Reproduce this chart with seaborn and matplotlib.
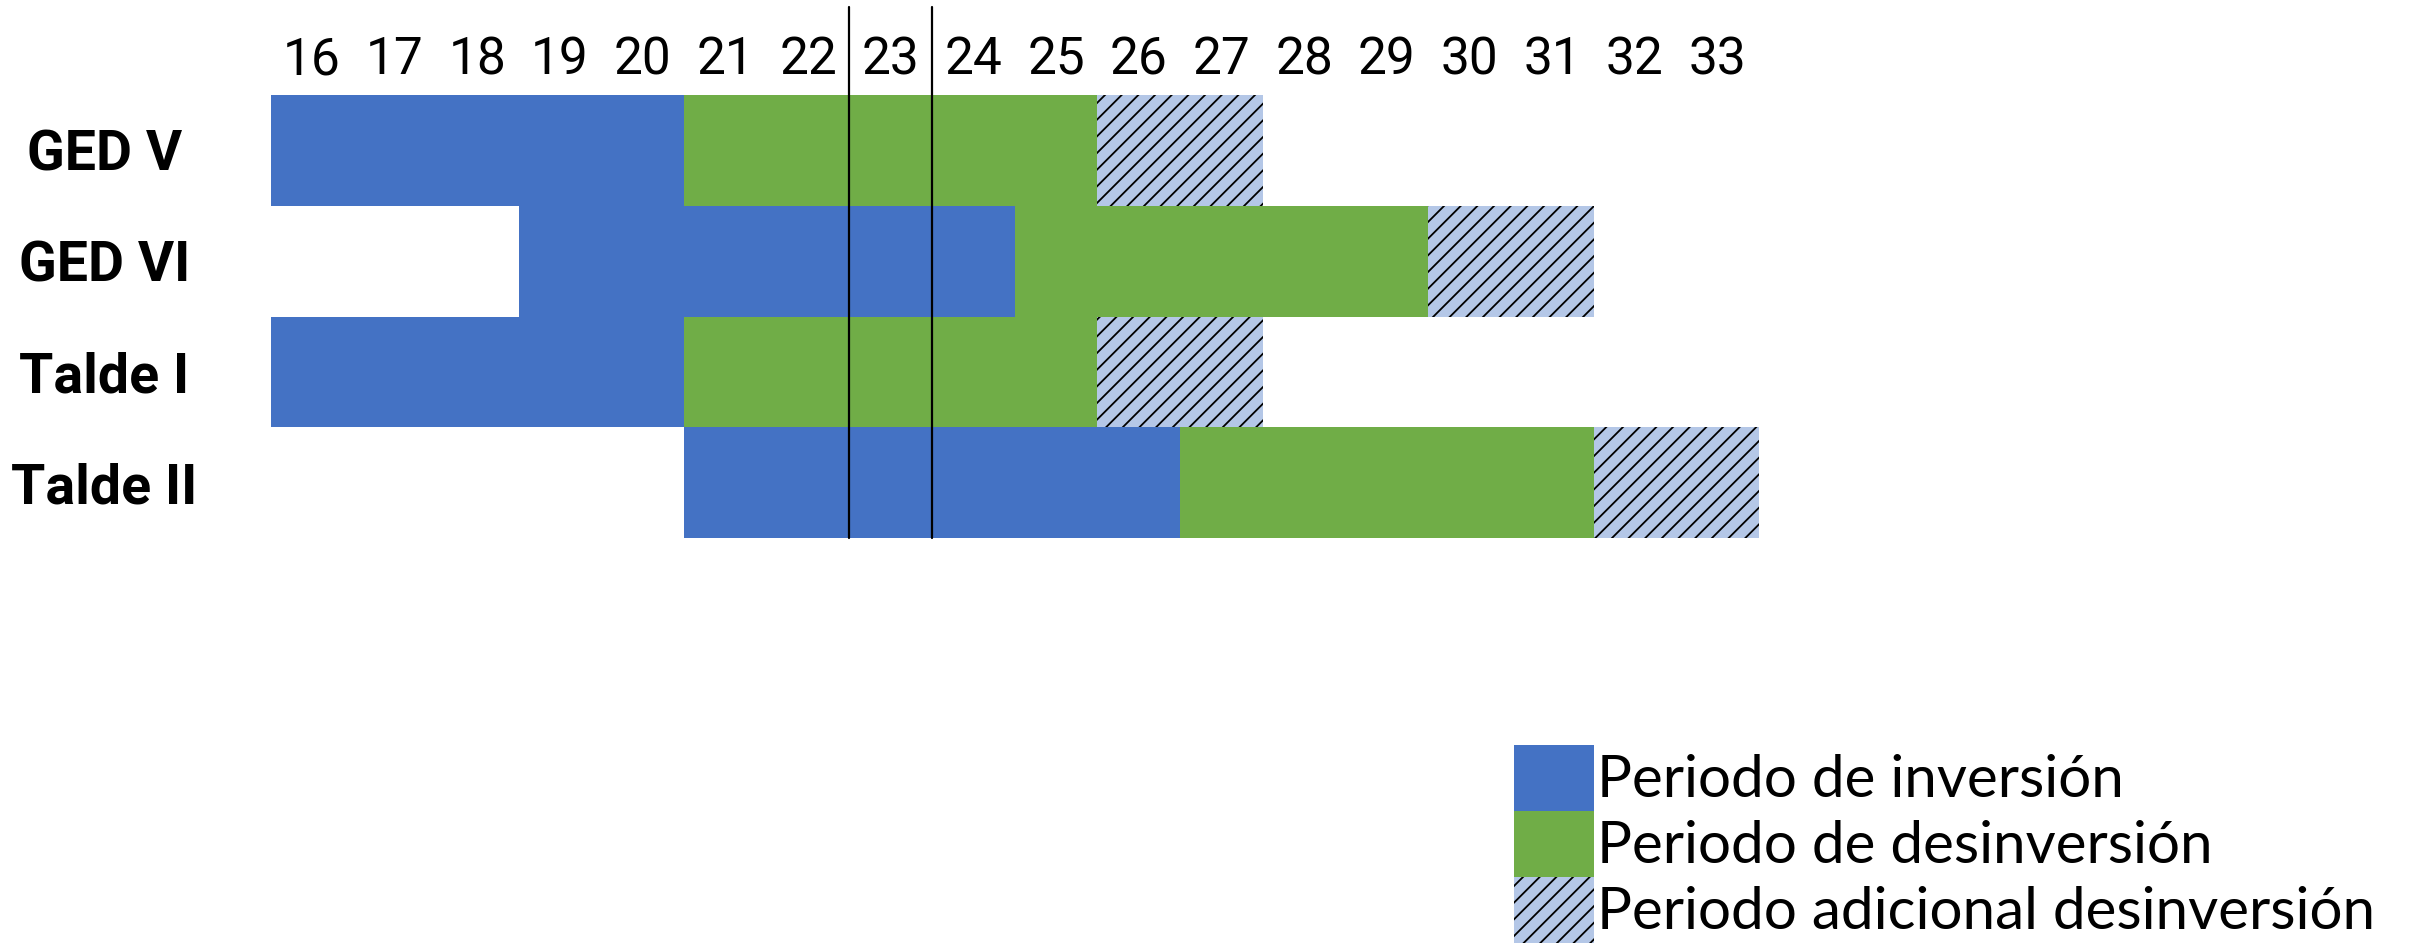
import matplotlib
matplotlib.use("Agg")
import matplotlib.pyplot as plt
from matplotlib.patches import Patch
import seaborn as sns

# datos del cronograma (años de inicio/fin de cada periodo)
grupos = ['GED V', 'GED VI', 'Talde I', 'Talde II']
inv_inicio = [16, 19, 16, 21]
inv_fin = [20, 24, 20, 26]
desinv_fin = [25, 29, 25, 31]
adic_fin = [27, 31, 27, 33]
anios = list(range(16, 34))
anio_marcado = 23

leyenda = ['Periodo de inversión', 'Periodo de desinversión',
           'Periodo adicional desinversión']

azul = '#4472C4'
verde = '#70AD47'
celeste = '#B4C7E7'

sns.set_style('white')
plt.rcParams['hatch.linewidth'] = 1.3
plt.rcParams['text.color'] = 'black'
plt.rcParams['xtick.color'] = 'black'
plt.rcParams['ytick.color'] = 'black'

fig = plt.figure(figsize=(24.1, 9.43), dpi=100)
ax = fig.add_axes([270.5 / 2410, (943 - 538) / 943,
                   (1759 - 270.5) / 2410, (538 - 95) / 943])

# barras apiladas desde el final hacia el principio
fin = lambda v: [a + 0.5 for a in v]
sns.barplot(x=fin(adic_fin), y=grupos, orient='h', color=celeste, saturation=1,
            width=1.0, errorbar=None, hatch='//', edgecolor='black', linewidth=0, ax=ax)
sns.barplot(x=fin(desinv_fin), y=grupos, orient='h', color=verde, saturation=1,
            width=1.0, errorbar=None, linewidth=0, ax=ax)
sns.barplot(x=fin(inv_fin), y=grupos, orient='h', color=azul, saturation=1,
            width=1.0, errorbar=None, linewidth=0, ax=ax)
sns.barplot(x=[a - 0.5 for a in inv_inicio], y=grupos, orient='h', color='white',
            saturation=1, width=1.0, errorbar=None, linewidth=0, ax=ax)

ax.set_xlim(anios[0] - 0.5, anios[-1] + 0.5)
ax.set_ylim(len(grupos) - 0.5, -0.5)

# lineas del año marcado
for xv in (anio_marcado - 0.5, anio_marcado + 0.5):
    ax.axvline(xv, ymin=0, ymax=1.199, clip_on=False, color='black', lw=1.6, zorder=5)

ax.xaxis.tick_top()
ax.set_xticks(anios)
ax.set_xticklabels([str(a) for a in anios], fontsize=37, family='Roboto')
ax.tick_params(axis='x', length=0, pad=7)
ax.set_yticks(range(len(grupos)))
ax.set_yticklabels(grupos, fontsize=40, fontweight='bold', family='Roboto')
for lbl in ax.get_yticklabels():
    lbl.set_ha('center')
ax.tick_params(axis='y', length=0, pad=119.5)
ax.set_xlabel('')
ax.set_ylabel('')
for s in ax.spines.values():
    s.set_visible(False)

handles = [Patch(facecolor=azul, linewidth=0),
           Patch(facecolor=verde, linewidth=0),
           Patch(facecolor=celeste, hatch='//', edgecolor='black', linewidth=0)]
fig.legend(handles, leyenda, loc='lower left', bbox_to_anchor=(1514 / 2410, 0),
           frameon=False, prop={'family': 'Lato', 'size': 42},
           handlelength=1.37, handleheight=1.365, handletextpad=0.05,
           labelspacing=0, borderpad=0, borderaxespad=0)

fig.savefig('out.png', dpi=100)
